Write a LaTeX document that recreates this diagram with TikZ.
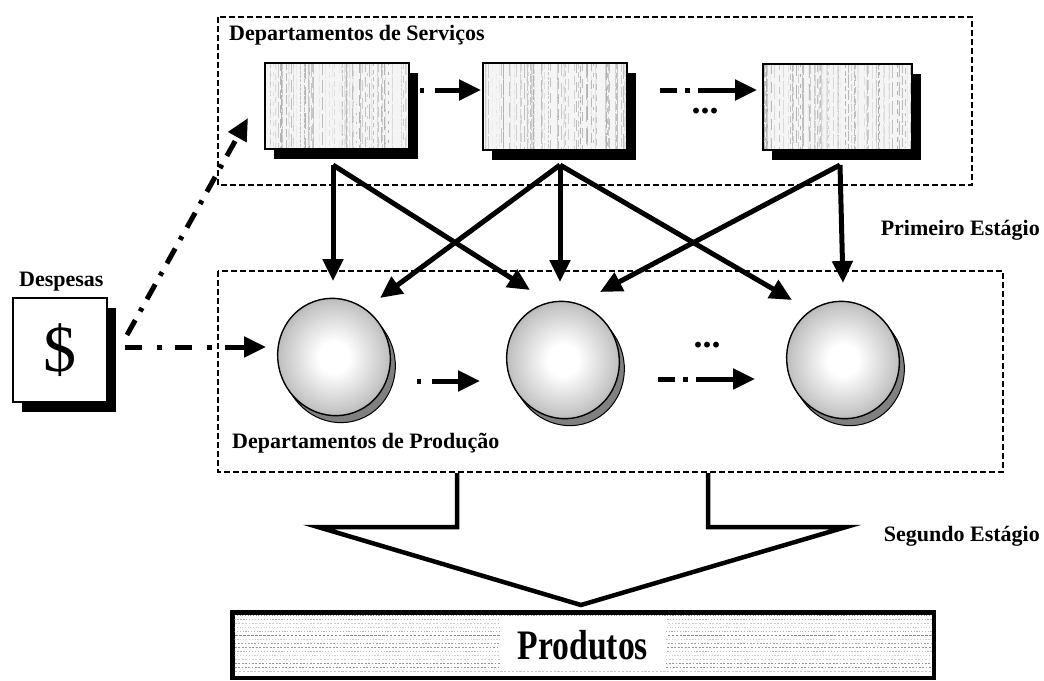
\documentclass[tikz,border=0pt]{standalone}
\usepackage{fontspec}
\setmainfont{Liberation Serif}
\newfontfamily\prodfont[FakeStretch=0.8]{Liberation Serif}
\usetikzlibrary{arrows.meta,calc,shapes.geometric,shadows}

% light centre, dark rim for the production discs
\pgfdeclareradialshading{discshade}{\pgfpoint{0bp}{0bp}}{%
  color(0bp)=(white); color(6bp)=(white); color(20bp)=(black!22);
  color(31bp)=(black!45); color(40bp)=(black!70); color(46bp)=(black!90); color(50bp)=(black)}

% vertical grey streaks inside a service box
\newcommand{\streaks}[1]{%
  \begin{scope}
    \clip ([shift={(2,-2)}]#1.south west) rectangle ([shift={(-2,2)}]#1.north east);
    \foreach \k in {1,...,90}{
      \pgfmathsetmacro{\stX}{rnd}
      \pgfmathsetmacro{\stG}{int(6+26*rnd)}
      \pgfmathsetmacro{\stOn}{3+14*rnd}
      \pgfmathsetmacro{\stOff}{1+8*rnd}
      \coordinate (stT) at ($(#1.north west)!\stX!(#1.north east)$);
      \coordinate (stB) at ($(#1.south west)!\stX!(#1.south east)$);
      \draw[black!\stG, line width=0.6pt, dash pattern=on \stOn pt off \stOff pt] (stT) -- (stB);
    }
  \end{scope}}

\begin{document}
\begin{tikzpicture}[x=1pt,y=-1pt,
  lbl/.style={font=\bfseries\fontsize{22}{24}\selectfont, inner sep=0pt},
  zone/.style={draw, line width=2pt, dash pattern=on 6pt off 3pt},
  svcbox/.style={draw, line width=1.8pt, fill=black!4, inner sep=0pt,
    drop shadow={shadow xshift=9pt, shadow yshift=-10pt, fill=black, opacity=1}},
  disc/.style={ellipse, draw, line width=1.4pt, minimum width=112pt, minimum height=118pt,
    rotate=20, shading=discshade, inner sep=0pt,
    drop shadow={shadow xshift=5pt, shadow yshift=-7pt, fill=black!50, draw=black, line width=1pt, opacity=1}},
  flow/.style={line width=5pt, -{Triangle[length=22pt,width=20pt]}},
  dashdot/.style={dash pattern=on 17pt off 10pt on 4pt off 10pt},
  dots/.style={font=\bfseries\fontsize{36}{36}\selectfont, inner sep=0pt}
]
\useasboundingbox (0,0) rectangle (1044,680);
\pgfmathsetseed{11}

% ---------- service departments ----------
\draw[zone] (218,17) rectangle (972,185);
\node[lbl, anchor=west] (svcLabel) at (229,35) {Departamentos de Serviços};

\node[svcbox, minimum width=144pt, minimum height=86pt] (R1) at (337,106) {};
\node[svcbox, minimum width=144pt, minimum height=87pt] (R2) at (555,106.5) {};
\node[svcbox, minimum width=149pt, minimum height=86pt] (R3) at (837.5,107) {};
\streaks{R1}
\streaks{R2}
\streaks{R3}

% ---------- production departments ----------
\draw[zone] (218,271) rectangle (1003,472);
\node[lbl, anchor=west] (prdLabel) at (232,443) {Departamentos de Produção};

\node[disc] (C1) at (334,357) {};
\node[disc] (C2) at (563,360) {};
\node[disc] (C3) at (843,360) {};

% ---------- expenses ----------
\node[lbl, anchor=west] (desp) at (19,282) {Despesas};
\node[draw, fill=white, line width=1.4pt, minimum width=94pt, minimum height=104pt,
  inner sep=0pt, font=\fontsize{66}{66}\selectfont,
  drop shadow={shadow xshift=9pt, shadow yshift=-10pt, fill=black, opacity=1}] (D) at (60,350) {\$};

% ---------- stage labels ----------
\node[lbl, anchor=east] (stage1) at (1040,230) {Primeiro Estágio};
\node[lbl, anchor=east] (stage2) at (1040,536) {Segundo Estágio};

% ---------- connector end points ----------
\coordinate (R1out) at (333,165);
\coordinate (R2out) at (560,165);
\coordinate (R3out) at (840,165);
\coordinate (C1inA) at (333,281);
\coordinate (C1inB) at (380,298);
\coordinate (C2inA) at (530,290);
\coordinate (C2inB) at (560,282);
\coordinate (C2inC) at (600,292);
\coordinate (C3inA) at (792,300);
\coordinate (C3inB) at (843,283);

% first stage allocation
\draw[flow] (R1out) -- (C1inA);
\draw[flow] (R1out) -- (C2inA);
\draw[flow] (R2out) -- (C1inB);
\draw[flow] (R2out) -- (C2inB);
\draw[flow] (R2out) -- (C3inA);
\draw[flow] (R3out) -- (C2inC);
\draw[flow] (R3out) -- (C3inB);

% transfers between service departments
\coordinate (R12a) at (420,90);
\coordinate (R12b) at (481,90);
\draw[flow, dash pattern=on 4pt off 11pt on 200pt] (R12a) -- (R12b);
\coordinate (R23a) at (660,90);
\coordinate (R23b) at (757,90);
\draw[flow, dash pattern=on 17pt off 8pt on 5pt off 8pt on 200pt] (R23a) -- (R23b);
\node[dots] (svcDots) at (705,111) {...};

% transfers between production departments
\coordinate (C12a) at (417,381);
\coordinate (C12b) at (480,381);
\draw[flow, dash pattern=on 4pt off 11pt on 200pt] (C12a) -- (C12b);
\coordinate (C23a) at (658,379);
\coordinate (C23b) at (755,379);
\draw[flow, dash pattern=on 17pt off 8pt on 5pt off 8pt on 200pt] (C23a) -- (C23b);
\node[dots] (prdDots) at (707,345) {...};

% expenses flowing in
\coordinate (Dup) at (127,335);
\coordinate (R1in) at (248,118);
\draw[flow, dashdot] (Dup) -- (R1in);
\coordinate (Dright) at (125,347);
\coordinate (C1in) at (266,347);
\draw[flow, dash pattern=on 17pt off 15pt on 5pt off 13pt on 17pt off 15pt on 5pt off 13pt on 300pt] (Dright) -- (C1in);

% ---------- second stage: hollow arrow ----------
\draw[line width=4.5pt, line join=miter] (457,473) -- (457,527) -- (318,527) -- (581,605)
  -- (846,527) -- (708,527) -- (708,473);

% ---------- products ----------
\node[draw, line width=3pt, minimum width=700pt, minimum height=64pt, inner sep=0pt] (P) at (583,645) {};
\begin{scope}
  \clip ([shift={(3,-3)}]P.south west) rectangle ([shift={(-3,3)}]P.north east);
  \foreach \r in {0,...,14}{
    \pgfmathsetmacro{\rowG}{int(15+35*rnd)}
    \pgfmathsetmacro{\rowOn}{1+1.5*rnd}
    \draw[black!\rowG, line width=1.3pt, dash pattern=on \rowOn pt off 1.6pt]
      ($(P.north west)+(0,4+4*\r)$) -- ($(P.north east)+(0,4+4*\r)$);
  }
\end{scope}
\node[fill=white, minimum height=52pt, inner xsep=18pt,
  font=\prodfont\bfseries\fontsize{42}{42}\selectfont] (prodText) at (P.center) {Produtos};
\draw[line width=3.5pt] (P.south west) rectangle (P.north east);
\end{tikzpicture}
\end{document}
